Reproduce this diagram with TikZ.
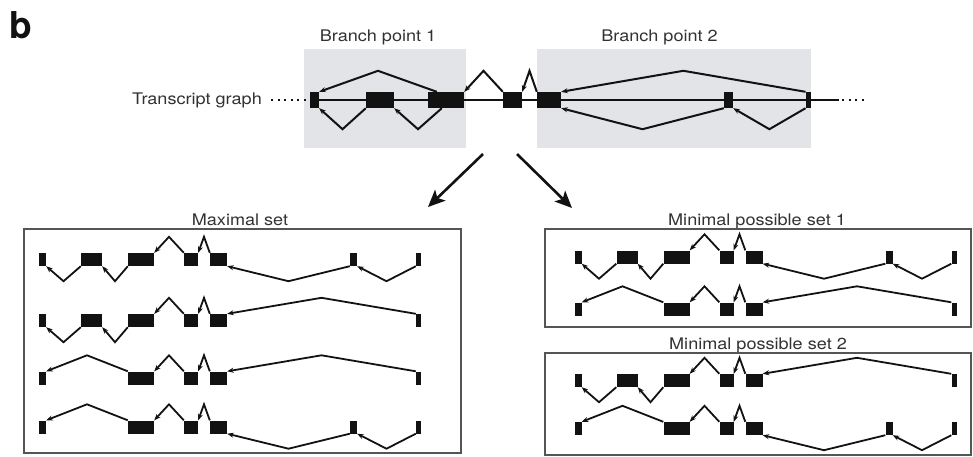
\documentclass[tikz,border=0pt]{standalone}
\usepackage{fontspec}
\usepackage{graphicx}
\setmainfont{TeX Gyre Heros}
\usetikzlibrary{arrows.meta,calc}

\definecolor{panelgray}{RGB}{227,228,231}
\definecolor{ink}{RGB}{18,18,18}
\definecolor{labelgray}{RGB}{50,50,50}
\definecolor{framegray}{RGB}{85,85,85}

\tikzset{
  exon/.style={fill=ink, draw=none, inner sep=0pt, minimum height=13pt},
  bigexon/.style={exon, minimum height=16pt},
  splice/.style={draw=ink, line width=1.8pt, line join=miter,
    -{Stealth[length=6.5pt,width=5pt]}},
  bigsplice/.style={splice, line width=2pt},
  backbone/.style={draw=ink, line width=2pt},
  dotline/.style={draw=ink, line width=2pt, dash pattern=on 2pt off 4.5pt},
  setframe/.style={draw=framegray, line width=1.5pt, inner sep=0pt},
  branchbox/.style={fill=panelgray, draw=none, inner sep=0pt},
  lbl/.style={text=labelgray, font=\fontsize{16}{18}\selectfont, inner sep=0pt},
  bigarrow/.style={draw=ink, line width=2.6pt,
    -{Stealth[length=17pt,width=15pt,inset=4pt]}},
}

% slightly widened label text
\newcommand\widetext[1]{\scalebox{1.13}[1]{#1}}

% splice arcs: from a source point over/under an apex to a target point
\newcommand\overarc[4][splice]{\draw[#1] (#2) -- ($(#2)!.5!(#3)+(0,-#4)$) -- (#3);}
\newcommand\underarc[4][splice]{\draw[#1] (#2) -- ($(#2)!.5!(#3)+(0,#4)$) -- (#3);}

% one row of exons: #1 prefix, #2 x offset, #3 centre y, #4 exon indices
\newcommand\exonrow[4]{%
  \foreach \k in {#4}{%
    \pgfmathsetmacro\exl{{39,81,128,184,210,350,416}[\k-1]+#2}%
    \pgfmathsetmacro\exw{{7,21,26,14,17,7,5}[\k-1]}%
    \node[exon, minimum width=\exw pt] (#1-\k) at ({\exl+\exw/2},#3) {};
  }}

% one isoform: #1 prefix, #2 x offset, #3 centre y,
% #4 = 1 keeps exon 2, #5 = 1 keeps exon 6
\newcommand\isoform[5]{%
  \exonrow{#1}{#2}{#3}{1,3,4,5,7}%
  \ifnum#4=1
    \exonrow{#1}{#2}{#3}{2}%
    \underarc{#1-2.south west}{#1-1.south east}{15}%
    \underarc{#1-3.south west}{#1-2.south east}{15}%
  \else
    \overarc{#1-3.north west}{#1-1.north east}{16}%
  \fi
  \overarc{#1-4.north west}{#1-3.north east}{16}%
  \overarc{#1-5.north west}{#1-4.north east}{16}%
  \ifnum#5=1
    \exonrow{#1}{#2}{#3}{6}%
    \underarc{#1-6.south west}{#1-5.south east}{15}%
    \underarc{#1-7.south west}{#1-6.south east}{15}%
  \else
    \overarc{#1-7.north west}{#1-5.north east}{16}%
  \fi}

\begin{document}
\begin{tikzpicture}[x=1pt,y=-1pt]
\useasboundingbox (0,0) rectangle (973,456);

% panel letter
\node[anchor=base west, inner sep=0pt, text=ink,
      font=\fontsize{37}{40}\selectfont\bfseries] (panel) at (9,38.3) {b};

% branch point regions
\node[branchbox, minimum width=162pt, minimum height=99pt] (bp1box) at (385,98.5) {};
\node[branchbox, minimum width=274pt, minimum height=99pt] (bp2box) at (674,98.5) {};
\node[lbl, anchor=base] (bp1) at (378,41.5) {\widetext{Branch point 1}};
\node[lbl, anchor=base] (bp2) at (659.5,41.5) {\widetext{Branch point 2}};

% transcript graph backbone
\node[lbl, anchor=base east] (tg) at (262,104.5) {\widetext{Transcript graph}};
\coordinate (dotL) at (271,100);
\coordinate (bbL) at (312,100);
\coordinate (bbR) at (839,100);
\coordinate (dotR) at (866,100);
\draw[dotline] (dotL) -- (bbL);
\draw[backbone] (bbL) -- (bbR);
\draw[dotline, dash phase=-3pt] (bbR) -- (dotR);

% exons of the graph
\node[bigexon, minimum width=9pt]   (A) at (314.5,100) {};
\node[bigexon, minimum width=28pt]  (B) at (380,100) {};
\node[bigexon, minimum width=36pt]  (C) at (446,100) {};
\node[bigexon, minimum width=19pt]  (D) at (512.5,100) {};
\node[bigexon, minimum width=24pt]  (E) at (549,100) {};
\node[bigexon, minimum width=9pt]   (F) at (728.5,100) {};
\node[bigexon, minimum width=5.5pt] (G) at (808.5,100) {};
\coordinate (Cup) at ($(C.north west)+(9,0)$);
\coordinate (Cdn) at ($(C.south west)+(14,0)$);

% splice junctions of the graph
\overarc[bigsplice]{Cup}{A.north east}{21}
\underarc[bigsplice]{B.south west}{A.south east}{21}
\underarc[bigsplice]{Cdn}{B.south east}{21}
\overarc[bigsplice]{D.north west}{C.north east}{21}
\overarc[bigsplice]{E.north west}{D.north east}{21}
\overarc[bigsplice]{G.north west}{E.north east}{21}
\underarc[bigsplice]{F.south west}{E.south east}{21}
\underarc[bigsplice]{G.south west}{F.south east}{21}

% arrows to the two outcomes
\coordinate (splitL) at (483,154);
\coordinate (toMax) at (428,207);
\coordinate (splitR) at (517,154);
\coordinate (toMin) at (572,208);
\draw[bigarrow] (splitL) -- (toMax);
\draw[bigarrow] (splitR) -- (toMin);

% maximal set
\node[lbl, anchor=base] (maxlbl) at (240,225) {\widetext{Maximal set}};
\node[setframe, minimum width=437pt, minimum height=224pt] (maxbox) at (242.5,341) {};
\isoform{L1}{0}{259.5}{1}{1}
\isoform{L2}{0}{320.5}{1}{0}
\isoform{L3}{0}{378}{0}{0}
\isoform{L4}{0}{427}{0}{1}

% minimal possible set 1
\node[lbl, anchor=base] (min1lbl) at (757,225) {\widetext{Minimal possible set 1}};
\node[setframe, minimum width=426pt, minimum height=98pt] (min1box) at (758,278) {};
\isoform{R1}{535.5}{257}{1}{1}
\isoform{R2}{535.5}{309}{0}{0}

% minimal possible set 2
\node[lbl, anchor=base] (min2lbl) at (758,349) {\widetext{Minimal possible set 2}};
\node[setframe, minimum width=426pt, minimum height=102pt] (min2box) at (758,404) {};
\isoform{S1}{535.5}{380.5}{1}{0}
\isoform{S2}{535.5}{428.5}{0}{1}
\end{tikzpicture}
\end{document}
